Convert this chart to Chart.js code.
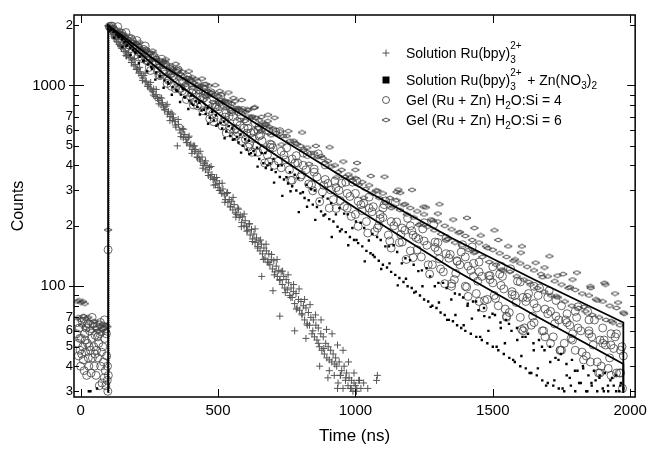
<!DOCTYPE html>
<html lang="en">
<head>
<meta charset="UTF-8">
<title>Luminescence decay</title>
<script src="https://cdn.jsdelivr.net/npm/chart.js"></script>
<style>
  body { margin: 0; background: #fff; }
  #wrap { position: relative; width: 652px; height: 449px; }
  .legend { position: absolute; left: 406px; font: 14px "Liberation Sans", Arial, sans-serif; color: #000; white-space: nowrap; line-height: 16px; }
  .legend sub { font-size: 10px; vertical-align: -4px; line-height: 0; }
  .stack { display: inline-block; position: relative; width: 13px; height: 1px; }
  .stack .hi, .stack .lo { position: absolute; left: 0; font-size: 10px; line-height: 10px; }
  .stack .hi { bottom: 7px; }
  .stack .lo { bottom: -7px; }
</style>
</head>
<body>
<div id="wrap">
  <canvas id="decayChart" width="652" height="449"></canvas>
  <div class="legend" style="top:45px">Solution Ru(bpy)<span class="stack"><span class="hi">2+</span><span class="lo">3</span></span></div>
  <div class="legend" style="top:72px">Solution Ru(bpy)<span class="stack"><span class="hi">2+</span><span class="lo">3</span></span> + Zn(NO<sub>3</sub>)<sub>2</sub></div>
  <div class="legend" style="top:92px">Gel (Ru + Zn) H<sub>2</sub>O:Si = 4</div>
  <div class="legend" style="top:112px">Gel (Ru + Zn) H<sub>2</sub>O:Si = 6</div>
</div>
<script>
// [time (ns), counts]
const solutionRu = [
  [100,1980],[104,1920],[109,1870],[113,1830],[118,1800],[122,1740],[127,1760],[131,1660],[136,1640],[140,1600],
  [145,1560],[149,1530],[154,1560],[158,1480],[163,1470],[167,1400],[172,1430],[176,1370],[181,1380],[185,1300],
  [190,1340],[194,1250],[199,1270],[203,1200],[208,1210],[212,1150],[217,1170],[221,1120],[226,1090],[230,1120],
  [235,1040],[239,1050],[244,990],[248,1010],[253,970],[257,950],[262,930],[266,960],[271,880],[275,900],
  [280,860],[284,840],[289,870],[293,800],[298,820],[302,780],[307,760],[311,790],[316,720],[320,740],
  [325,700],[329,730],[334,670],[338,690],[343,660],[347,620],[352,500],[356,640],[361,600],[365,580],
  [370,610],[374,550],[379,570],[383,540],[388,520],[392,550],[397,500],[401,510],[406,480],[410,500],
  [415,470],[419,480],[424,440],[428,460],[433,430],[437,420],[442,440],[446,400],[451,410],[455,380],
  [460,400],[464,370],[469,390],[473,350],[478,360],[482,340],[487,345],[491,320],[496,335],[500,310],
  [505,325],[509,300],[514,290],[518,305],[523,285],[527,270],[532,290],[536,262],[541,270],[545,250],
  [550,265],[554,240],[559,255],[563,232],[568,228],[572,245],[577,220],[581,226],[586,208],[590,222],
  [595,200],[599,212],[604,198],[608,190],[613,204],[617,180],[622,192],[626,172],[631,182],[635,165],
  [640,174],[644,158],[649,168],[653,150],[658,162],[662,145],[667,155],[671,138],[676,150],[680,132],
  [685,145],[689,128],[694,136],[698,122],[703,134],[707,118],[712,126],[716,112],[721,120],[725,108],
  [730,118],[734,102],[739,112],[743,98],[748,108],[752,96],[757,104],[761,90],[766,98],[770,88],
  [775,94],[779,82],[784,92],[788,78],[793,86],[797,76],[802,84],[806,72],[811,80],[815,68],
  [820,78],[824,65],[829,74],[833,64],[838,70],[842,58],[847,68],[851,56],[856,64],[860,54],
  [865,62],[869,50],[874,58],[878,48],[883,56],[887,46],[892,52],[896,44],[901,50],[905,38],
  [910,48],[914,42],[919,46],[923,36],[928,44],[932,40],[937,33],[941,42],[946,36],[950,38],
  [955,31],[959,40],[964,34],[968,37],[973,32],[977,35],[982,31],[986,34],[991,30],[995,33],
  [1000,32],[1004,30],[1012,34],[1020,31],[1077,34],[1080,36],
  [659,112],[725,71],[779,60],[700,95],[820,55],[870,40],[900,35],[935,31],
  [105,1900],[115,1920],[125,1710],[135,1770],[145,1580],[155,1630],[165,1410],[175,1460],[185,1300],[195,1360],
  [205,1200],[215,1230],[225,1060],[235,1150],[245,990],[255,1035],[265,895],[275,955],[285,810],[295,865],
  [305,755],[315,805],[325,668],[335,720],[345,635],[355,677],[365,556],[375,605],[385,519],[395,559],
  [405,459],[415,500],[425,437],[435,470],[445,387],[455,421],[465,356],[475,395],[485,319],[495,348],
  [505,300],[515,326],[525,262],[535,293],[545,248],[555,277],[565,221],[575,242],[585,198],[595,229],
  [605,188],[615,205],[625,167],[635,193],[645,155],[655,170],[665,136],[675,162],[685,131],[695,144],
  [705,114],[715,136],[725,107],[735,119],[745,93],[755,114],[765,88],[775,102],[785,77],[795,97],
  [805,73],[815,86],[825,64],[835,81],[845,60],[855,72],[865,52],[875,68],[885,49],[895,61],
  [905,43],[915,58],[925,41],[935,51],[945,36],[955,48],[965,35],[975,42],[985,31],[995,37],
  [1005,31],[1015,34],[1030,33],[1045,31]
];

const solutionRuZn = [
  [30,30],[36,30],[60,31],
  [100,1980],[110,1900],[120,1850],[130,1790],[140,1740],[150,1690],[160,1640],[170,1590],[180,1540],[190,1500],
  [200,1450],[215,1390],[230,1330],[245,1270],[260,1210],[275,1160],[290,1110],[305,1060],[320,1020],[335,980],
  [350,940],[365,900],[372,960],[380,870],[395,840],[402,890],[410,800],[425,780],[432,820],[440,750],
  [455,720],[462,770],[470,690],[485,670],[492,710],[500,640],[515,610],[522,660],[530,590],[545,560],
  [552,610],[560,540],[575,520],[582,570],[590,500],[605,480],[612,530],[620,460],[635,450],[642,490],
  [650,430],[665,410],[672,460],[680,400],[695,380],[702,430],[710,370],[725,350],[732,400],[740,340],
  [755,325],[762,370],[770,315],[785,300],[792,345],[800,290],[815,275],[822,320],[830,268],[845,255],
  [852,300],[860,248],[875,236],[882,280],[890,228],[905,216],[912,260],[920,210],[935,198],[942,245],
  [950,192],[965,186],[972,228],[980,176],[995,170],[1002,210],[1010,164],[1025,158],[1032,195],[1040,150],
  [1055,146],[1062,182],[1070,140],[1085,134],[1092,170],[1100,128],[1115,124],[1122,158],[1130,118],[1145,114],
  [1152,148],[1160,110],[1175,105],[1182,138],[1190,100],[1205,98],[1212,128],[1220,94],[1235,90],[1242,120],
  [1250,86],[1265,84],[1272,112],[1280,80],[1295,78],[1302,104],[1310,74],[1325,72],[1332,98],[1340,68],
  [1355,67],[1362,92],[1370,64],[1385,62],[1392,88],[1400,60],[1408,80],[1420,58],[1428,84],[1440,56],
  [1448,76],[1460,54],[1468,78],[1480,52],[1488,70],[1500,50],[1508,72],[1520,48],[1528,66],[1540,46],
  [1548,68],[1560,44],[1568,60],[1580,42],[1588,62],[1600,40],[1608,56],[1620,39],[1628,58],[1640,37],
  [1648,52],[1660,36],[1668,54],[1680,34],[1688,48],[1700,33],[1708,50],[1720,32],[1728,44],[1740,31],
  [1748,46],[1760,30],[1768,41],[1780,35],[1788,43],[1800,30],[1808,38],[1820,33],[1828,40],[1840,30],
  [1848,36],[1860,32],[1868,38],[1880,30],[1888,35],[1900,31],[1908,37],[1920,30],[1928,34],[1940,32],
  [1948,36],[1960,30],[1966,33],[1975,31],
  [404,813],[419,838],[434,717],[449,757],[464,645],[479,736],[494,630],[509,651],[524,546],[539,627],
  [554,536],[569,554],[584,463],[599,540],[614,455],[629,472],[644,394],[659,460],[674,388],[689,409],
  [704,328],[719,398],[734,282],[749,349],[764,297],[779,359],[794,234],[809,294],[824,249],[839,304],
  [854,214],[869,265],[884,225],[899,273],[914,176],[929,228],[944,188],[959,230],[974,160],[989,195],
  [1004,170],[1019,207],[1034,133],[1049,169],[1064,143],[1079,176],[1094,122],[1109,158],[1124,130],[1139,160],
  [1154,101],[1169,130],[1184,109],[1199,135],[1214,93],[1229,119],[1244,100],[1259,123],[1274,79],[1289,100],
  [1304,83],[1319,104],[1334,68],[1349,86],[1364,72],[1379,91],[1394,64],[1409,82],[1424,69],[1439,84],
  [1454,56],[1469,71],[1484,60],[1499,73],[1514,50],[1529,62],[1544,52],[1559,65],[1574,43],[1589,54],
  [1604,45],[1619,56],[1634,37],[1649,48],[1664,39],[1679,50],[1694,32],[1709,42],[1724,34],[1739,43],
  [1754,31],[1769,36],[1784,32],[1799,38],[1814,33],[1829,39],[1844,30],[1859,33],[1874,34],[1889,36],
  [1904,30],[1919,32],[1934,35],[1949,30],[1964,32],
  [107,1877],[122,1730],[137,1751],[152,1554],[167,1575],[182,1417],[197,1467],[212,1290],[227,1324],[242,1175],
  [257,1232],[272,1069],[287,1108],[302,973],[317,1041],[332,899],[347,949],[362,827],[377,875],[392,763]
];

const gelRatio4 = [
  [-14,58],[-10,52],[-8,45],[-5,62],[-2,48],[0,40],[3,55],[6,67],[8,50],[10,43],
  [13,38],[15,58],[18,47],[20,62],[22,36],[25,52],[28,44],[30,40],[33,60],[36,48],
  [38,37],[40,55],[43,44],[46,65],[48,50],[50,40],[53,57],[56,36],[58,48],[60,63],
  [63,44],[66,52],[68,32],[70,58],[73,40],[76,47],[78,33],[80,62],[83,42],[86,35],
  [88,55],[90,38],[92,32],[95,45],[97,34],[99,30],[101,36],[100,152],
  [-12,66],[-3,55],[4,46],[12,69],[17,54],[26,65],[31,50],[42,70],[52,46],[62,56],
  [72,66],[81,50],[87,68],[94,58],[98,40],
  [105,1960],[120,1900],[130,1850],[140,1770],[160,1720],[170,1640],[180,1580],[200,1540],[210,1470],[220,1460],
  [240,1330],[250,1400],[260,1310],[280,1180],[290,1260],[300,1170],[320,1060],[330,1150],[340,1090],[360,960],
  [370,1050],[380,990],[400,880],[410,950],[420,910],[440,800],[450,870],[460,830],[480,720],[490,800],
  [500,760],[520,660],[530,730],[540,700],[560,600],[570,660],[580,630],[600,540],[610,610],[620,580],
  [640,500],[650,560],[660,530],[680,450],[690,510],[700,490],[720,420],[730,470],[740,450],[760,380],
  [770,430],[780,410],[800,350],[810,400],[820,380],[840,320],[850,370],[860,350],[880,295],[890,340],
  [900,325],[920,270],[930,310],[940,300],[960,250],[970,290],[980,280],[1000,228],[1010,265],[1020,255],
  [1040,210],[1050,245],[1060,235],[1080,195],[1090,228],[1100,220],[1120,180],[1130,210],[1140,200],[1160,165],
  [1170,195],[1180,190],[1200,150],[1210,180],[1220,175],[1240,140],[1250,168],[1260,160],[1280,128],[1290,156],
  [1300,150],[1320,118],[1330,145],[1340,138],[1360,108],[1370,134],[1380,128],[1400,100],[1410,126],[1420,120],
  [1440,92],[1450,118],[1460,112],[1480,86],[1490,108],[1500,104],[1520,80],[1530,101],[1540,97],[1560,74],
  [1570,94],[1580,90],[1600,70],[1610,88],[1620,84],[1640,64],[1650,82],[1660,78],[1680,60],[1690,77],
  [1700,73],[1720,56],[1730,71],[1740,68],[1760,52],[1770,66],[1780,64],[1800,48],[1810,62],[1820,60],
  [1840,45],[1850,58],[1860,56],[1880,42],[1890,54],[1900,52],[1920,39],[1930,51],[1940,49],[1960,37],
  [1965,48],[1975,45],[1972,31],
  [1500,125],[1600,105],[1700,88],[1800,75],[1900,62],[1400,140],[1300,165],[1200,200],[1100,245],[1000,290],
  [1650,100],[1750,80],[1850,68],[1950,58],[1550,70],[1745,48],[1855,42],[1930,36],[1450,84],[1350,100],
  [1615,62],[1710,52],[1895,40],[1790,58],[1535,112],[1430,130],
  [110,1975],[130,1770],[150,1820],[170,1560],[190,1650],[210,1385],[230,1510],[250,1230],[270,1375],[290,1120],
  [310,1260],[330,990],[350,1180],[370,940],[390,1100],[410,800],[430,955],[450,990],[470,682],[490,777],
  [510,882],[530,580],[550,740],[570,583],[590,750],[610,493],[630,588],[650,623],[670,411],[690,492],
  [710,586],[730,389],[750,489],[770,337],[790,411],[810,461],[830,323],[850,383],[870,264],[890,402],
  [910,302],[930,244],[950,326],[970,245],[990,330],[1010,199],[1030,259],[1050,278],[1070,187],[1090,217],
  [1110,266],[1130,155],[1150,209],[1170,166],[1190,218],[1210,139],[1230,172],[1250,207],[1270,115],[1290,166],
  [1310,122],[1330,173],[1350,103],[1370,133],[1390,161],[1410,89],[1430,112],[1450,132],[1470,85],[1490,113],
  [1510,87],[1530,126],[1550,71],[1570,91],[1590,106],[1610,60],[1630,92],[1650,66],[1670,98],[1690,56],
  [1710,75],[1730,85],[1750,48],[1770,73],[1790,54],[1810,79],[1830,43],[1850,60],[1870,68],[1890,37],
  [1910,51],[1930,58],[1950,37],[1970,50],
  [405,1027],[425,792],[445,863],[465,909],[485,659],[505,785],[525,662],[545,768],[565,559],[585,712],
  [605,578],[625,465],[645,600],[665,479],[685,593],[705,400],[725,589],[745,426],[765,337],[785,447],
  [805,359],[825,453],[845,299],[865,456],[885,318],[905,245],[925,333],[945,267],[965,330],[985,223],
  [1005,334],[1025,238],[1045,184],[1065,249],[1085,201],[1105,255],[1125,168],[1145,261],[1165,181],[1185,136],
  [1205,189],[1225,152],[1245,193],[1265,128],[1285,203],[1305,137],[1325,103],[1345,144],[1365,116],[1385,148],
  [1405,99],[1425,157],[1445,106],[1465,78],[1485,113],[1505,90],[1525,115],[1545,77],[1565,122],[1585,83],
  [1605,61],[1625,88],[1645,71],[1665,90],[1685,60],[1705,95],[1725,65],[1745,48],[1765,68],[1785,55],
  [1805,70],[1825,47],[1845,75],[1865,51],[1885,37],[1905,54],[1925,44],[1945,56],[1965,37],
  [115,1972],[125,1772],[135,1960],[145,1783],[155,1595],[165,1834],[175,1590],[185,1704],[195,1412],[205,1672],
  [215,1498],[225,1359],[235,1571],[245,1327],[255,1187],[265,1407],[275,1281],[285,1126],[295,1351],[305,1135],
  [315,1023],[325,1229],[335,1116],[345,964],[355,1195],[365,970],[375,1044],[385,851],[395,1061],[405,919],
  [415,828],[425,1025],[435,875],[445,748],[455,907],[465,760],[475,919],[485,689],[495,782],[505,828],
  [515,628],[525,696],[535,806],[545,605],[555,700],[565,609],[575,741],[585,528],[595,614],[605,663],
  [615,510],[625,546],[635,651],[645,465],[655,567],[665,479],[675,600],[685,417],[695,506]
];

const gelRatio6 = [
  [-12,84],[-5,85],[2,83],[8,84],[15,82],[-8,70],[0,68],[10,71],[22,69],[35,66],
  [45,64],[55,62],[62,60],[70,63],[78,61],[85,62],[92,60],[97,63],[100,191],
  [5,64],[18,62],[28,70],[40,60],[50,67],[66,66],[74,58],[82,65],[90,64],
  [102,1980],[112,1940],[125,1880],[137,1820],[150,1800],[162,1740],[175,1700],[187,1650],[200,1620],[212,1570],
  [225,1520],[237,1490],[250,1450],[262,1400],[275,1370],[287,1330],[300,1300],[312,1260],[325,1240],[337,1200],
  [350,1180],[362,1140],[375,1110],[387,1090],[400,1070],[412,1030],[425,1010],[437,990],[450,980],[462,940],
  [475,920],[487,900],[500,890],[512,850],[525,840],[537,830],[550,810],[562,770],[575,760],[587,750],
  [600,740],[612,700],[625,700],[637,690],[650,670],[662,640],[675,640],[687,620],[700,610],[712,580],
  [725,590],[737,560],[750,560],[762,530],[775,530],[787,510],[800,500],[812,480],[825,490],[837,460],
  [850,460],[862,440],[875,445],[887,410],[900,420],[912,395],[925,400],[937,370],[950,380],[962,350],
  [975,360],[987,335],[1000,345],[1012,320],[1025,330],[1037,305],[1050,318],[1062,290],[1075,300],[1087,275],
  [1100,290],[1112,262],[1125,275],[1137,250],[1150,268],[1162,240],[1175,255],[1187,228],[1200,245],[1212,220],
  [1225,236],[1237,205],[1250,228],[1262,198],[1275,215],[1287,190],[1300,210],[1312,182],[1325,200],[1337,172],
  [1350,192],[1362,165],[1375,185],[1387,160],[1400,178],[1412,152],[1425,170],[1437,148],[1450,165],[1462,140],
  [1475,158],[1487,132],[1500,152],[1512,128],[1525,146],[1537,120],[1550,140],[1562,118],[1575,134],[1587,112],
  [1600,130],[1612,108],[1625,125],[1637,102],[1650,120],[1662,98],[1675,115],[1687,94],[1700,112],[1712,90],
  [1725,106],[1737,88],[1750,102],[1762,84],[1775,98],[1787,80],[1800,96],[1812,78],[1825,92],[1837,75],
  [1850,90],[1862,72],[1875,86],[1887,70],[1900,84],[1912,68],[1925,80],[1937,66],[1950,78],[1962,64],
  [1975,74],
  [1433,195],[1602,147],[1735,113],[1855,100],[1910,102],[1945,92],[1520,170],[1300,230],[1150,295],[1000,380],
  [1688,124],[1790,108],[1248,249],[1163,292],
  [106,1965],[131,1795],[156,1800],[181,1585],[206,1615],[231,1395],[256,1455],[281,1250],[306,1315],[331,1120],
  [356,1200],[381,1005],[406,1097],[431,927],[456,1014],[481,827],[506,937],[531,769],[556,865],[581,674],
  [606,759],[631,773],[656,592],[681,664],[706,690],[731,508],[756,592],[781,516],[806,583],[831,407],
  [856,500],[881,435],[906,492],[931,348],[956,418],[981,348],[1006,411],[1031,276],[1056,354],[1081,299],
  [1106,351],[1131,245],[1156,303],[1181,256],[1206,302],[1231,202],[1256,247],[1281,213],[1306,256],[1331,171],
  [1356,215],[1381,186],[1406,219],[1431,147],[1456,179],[1481,155],[1506,190],[1531,121],[1556,158],[1581,136],
  [1606,158],[1631,105],[1656,131],[1681,111],[1706,141],[1731,89],[1756,115],[1781,99],[1806,117],[1831,79],
  [1856,98],[1881,85],[1906,104],[1931,67],[1956,83],[1978,73],
  [118,1956],[130,1799],[142,1877],[154,1757],[166,1625],[178,1760],[190,1649],[202,1507],[214,1637],[226,1473],
  [238,1520],[250,1322],[262,1489],[274,1341],[286,1251],[298,1330],[310,1348],[322,1150],[334,1219],[346,1281],
  [358,1084],[370,1170],[382,1066],[394,1175],[406,975],[418,1072],[430,989],[442,1081],[454,880],[466,997],
  [478,921],[490,1003],[502,820],[514,900],[526,830],[538,922],[550,737],[562,834],[574,772],[586,847],
  [598,665],[610,754],[622,695],[634,777],[646,612],[658,697],[670,639],[682,714],[694,565]
];

// fitted decays, including the rising edge and the cut at the end of the window
const fitRatio6 = [[100,29.5],[100,1990],[300,1250],[647,635],[1000,320],[1350,174],[1650,108],[1975,66],[1975,29.5]];
const fitRatio4 = [[100,1990],[300,1150],[647,514],[1000,245],[1350,123],[1650,72],[1975,41],[1975,29.5]];
const riseEdge = [[104,29.5],[104,1990]];

const xTicks = [0, 500, 1000, 1500, 2000];
const yTicks = [30, 40, 50, 60, 70, 80, 90, 100, 200, 300, 400, 500, 600, 700, 800, 900, 1000, 2000];
const yTickLabels = ['3', '4', '5', '6', '7', '', '', '100', '2', '3', '4', '5', '6', '7', '', '', '1000', '2'];
const yMajor = [100, 1000];

const toXY = arr => arr.map(p => ({ x: p[0], y: p[1] }));

// flattened open diamond used for the H2O:Si = 6 gel
function diamondImage(w, h, color) {
    const c = document.createElement('canvas');
    c.width = w + 2;
    c.height = h + 2;
    const g = c.getContext('2d');
    g.strokeStyle = color;
    g.lineWidth = 0.9;
    g.beginPath();
    g.moveTo(1, 1 + h / 2);
    g.lineTo(1 + w / 2, 1);
    g.lineTo(1 + w, 1 + h / 2);
    g.lineTo(1 + w / 2, 1 + h);
    g.closePath();
    g.stroke();
    return c;
}
const diamond = diamondImage(8, 4, '#333');

const framePlugin = {
    id: 'frame',
    afterDraw(chart) {
        const { ctx, chartArea: a } = chart;
        const xs = chart.scales.x, ys = chart.scales.y;
        const line = (x1, y1, x2, y2) => { ctx.beginPath(); ctx.moveTo(x1, y1); ctx.lineTo(x2, y2); ctx.stroke(); };
        ctx.save();
        ctx.strokeStyle = '#000';
        ctx.lineWidth = 1;
        xTicks.forEach(v => {
            const px = Math.round(xs.getPixelForValue(v)) + 0.5;
            line(px, a.bottom, px, a.bottom - 8);
            line(px, a.top, px, a.top + 8);
        });
        yTicks.forEach(v => {
            const py = Math.round(ys.getPixelForValue(v)) + 0.5;
            const major = yMajor.includes(v);
            line(a.left - (major ? 5 : 0), py, a.left + (major ? 10 : 5), py);
            line(a.right, py, a.right - (major ? 8 : 5), py);
        });
        ctx.lineWidth = 1.5;
        ctx.strokeRect(a.left, a.top, a.right - a.left, a.bottom - a.top);

        // legend symbols
        const lx = 386;
        ctx.lineWidth = 1;
        ctx.strokeStyle = '#555';
        line(lx - 3.5, 53, lx + 3.5, 53);
        line(lx, 49.5, lx, 56.5);
        ctx.fillStyle = '#000';
        ctx.fillRect(lx - 3.5, 76.5, 7, 7);
        ctx.strokeStyle = '#333';
        ctx.lineWidth = 0.8;
        ctx.beginPath();
        ctx.arc(lx, 100, 3.5, 0, Math.PI * 2);
        ctx.stroke();
        ctx.drawImage(diamond, lx - diamond.width / 2, 120 - diamond.height / 2);
        ctx.restore();
    }
};

Chart.defaults.font.family = '"Liberation Sans", Arial, sans-serif';
Chart.defaults.color = '#000';

new Chart(document.getElementById('decayChart'), {
    type: 'scatter',
    data: {
        datasets: [
            { label: 'fit 6', data: toXY(fitRatio6), showLine: true, borderColor: '#000', borderWidth: 1.8, pointRadius: 0, fill: false },
            { label: 'fit 4', data: toXY(fitRatio4), showLine: true, borderColor: '#000', borderWidth: 1.8, pointRadius: 0, fill: false },
            { label: 'edge', data: toXY(riseEdge), showLine: true, borderColor: '#000', borderWidth: 1, borderDash: [1, 1], pointRadius: 0, fill: false },
            {
                label: 'Solution Ru(bpy)3 2+ + Zn(NO3)2', data: toXY(solutionRuZn),
                pointStyle: 'rect', pointRadius: 1.7, pointBackgroundColor: '#000', pointBorderWidth: 0
            },
            {
                label: 'Solution Ru(bpy)3 2+', data: toXY(solutionRu),
                pointStyle: 'cross', pointRadius: 3.5, pointBorderColor: '#555', pointBorderWidth: 1
            },
            {
                label: 'Gel (Ru + Zn) H2O:Si = 4', data: toXY(gelRatio4),
                pointStyle: 'circle', pointRadius: 4, pointBorderColor: '#444', pointBorderWidth: 0.8,
                pointBackgroundColor: 'rgba(0,0,0,0)'
            },
            {
                label: 'Gel (Ru + Zn) H2O:Si = 6', data: toXY(gelRatio6),
                pointStyle: diamond, pointRadius: 4
            }
        ]
    },
    options: {
        responsive: false,
        animation: false,
        events: [],
        layout: { padding: { top: 15, right: 12, left: 0, bottom: 0 } },
        plugins: { legend: { display: false }, tooltip: { enabled: false } },
        scales: {
            x: {
                type: 'linear', min: -24, max: 2018,
                grid: { display: false, drawTicks: false },
                border: { display: false },
                afterBuildTicks: s => { s.ticks = xTicks.map(v => ({ value: v })); },
                afterFit: s => { s.height = 52; },
                ticks: { font: { size: 15 }, padding: 5, maxRotation: 0, autoSkip: false, callback: v => String(v) },
                title: { display: true, text: 'Time (ns)', font: { size: 17 }, padding: { top: 0, bottom: 2 } }
            },
            y: {
                type: 'logarithmic', min: 28.1, max: 2242,
                grid: { display: false, drawTicks: false },
                border: { display: false },
                afterBuildTicks: s => { s.ticks = yTicks.map(v => ({ value: v })); },
                afterFit: s => { s.width = 74; },
                ticks: {
                    autoSkip: false,
                    padding: 1,
                    font: ctx => ({ size: yMajor.includes(ctx.tick && ctx.tick.value) ? 15 : 13 }),
                    callback: (v, i) => yMajor.includes(yTicks[i]) ? yTickLabels[i] + '\u2002' : yTickLabels[i]
                },
                title: { display: true, text: 'Counts', font: { size: 16 }, padding: { top: 9, bottom: 0 } }
            }
        }
    },
    plugins: [framePlugin]
});
</script>
</body>
</html>
